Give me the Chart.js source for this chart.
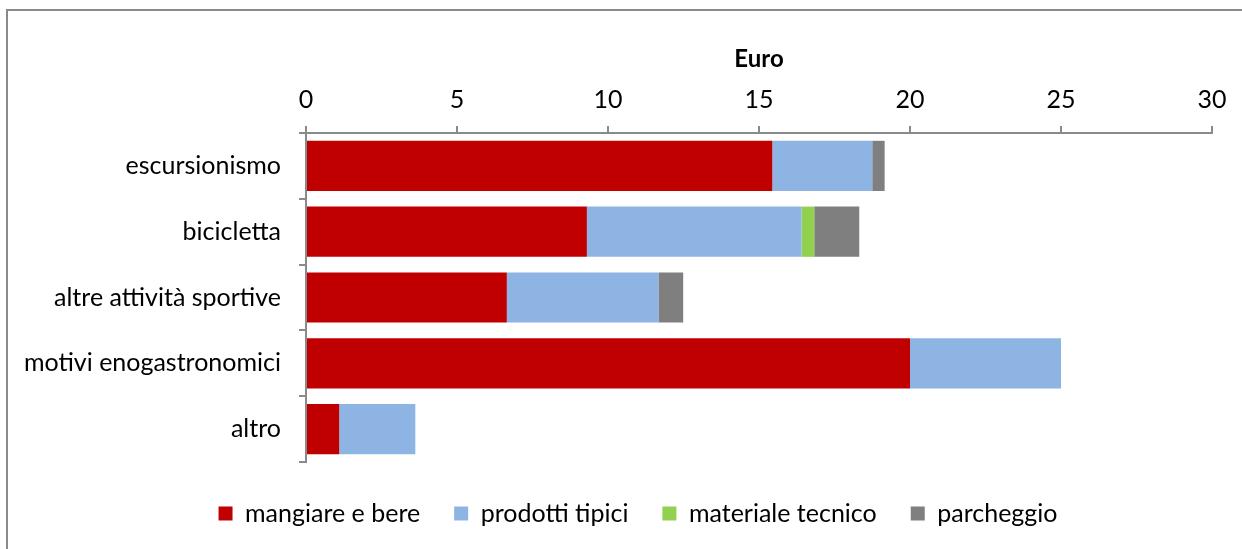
<!DOCTYPE html>
<html>
<head>
<meta charset="utf-8">
<script src="https://cdn.jsdelivr.net/npm/chart.js@4"></script>
<style>
html,body{margin:0;padding:0;background:#fff;}
#wrap{position:relative;width:1242px;height:549px;}
canvas{display:block;}
</style>
</head>
<body>
<div id="wrap"><canvas id="c" width="1242" height="549"></canvas></div>
<script>
const categories = ["escursionismo", "bicicletta", "altre attività sportive", "motivi enogastronomici", "altro"];
const mangiareEBere = [15.44, 9.30, 6.65, 20.0, 1.10];
const prodottiTipici = [3.31, 7.11, 5.02, 5.0, 2.52];
const materialeTecnico = [0, 0.42, 0, 0, 0];
const parcheggio = [0.41, 1.49, 0.82, 0, 0];
const seriesNames = ["mangiare e bere", "prodotti tipici", "materiale tecnico", "parcheggio"];
const axisTitle = "Euro";

const FONT = "Lato";
const frame = {
  id: 'frame',
  afterLayout(chart) {
    const lg = chart.legend;
    if (lg) {
      lg.left += 32; lg.right += 32;
      lg.top += 5; lg.bottom += 5;
    }
  },
  beforeDraw(chart) {
    const ctx = chart.ctx;
    ctx.save();
    ctx.strokeStyle = '#8a8a8a';
    ctx.lineWidth = 2;
    ctx.beginPath();
    ctx.moveTo(7, 549);
    ctx.lineTo(7, 10);
    ctx.lineTo(1242, 10);
    ctx.stroke();
    ctx.restore();
  }
};

new Chart(document.getElementById('c'), {
  type: 'bar',
  data: {
    labels: categories,
    datasets: [
      { label: seriesNames[0], data: mangiareEBere, backgroundColor: '#C00000' },
      { label: seriesNames[1], data: prodottiTipici, backgroundColor: '#8EB4E3' },
      { label: seriesNames[2], data: materialeTecnico, backgroundColor: '#92D050' },
      { label: seriesNames[3], data: parcheggio, backgroundColor: '#7F7F7F' }
    ]
  },
  options: {
    indexAxis: 'y',
    responsive: false,
    animation: false,
    devicePixelRatio: 1,
    categoryPercentage: 1,
    barPercentage: 0.763,
    layout: { padding: { left: 0, right: 30, top: 18, bottom: 18 } },
    plugins: {
      tooltip: { enabled: false },
      legend: {
        position: 'bottom',
        labels: {
          boxWidth: 14, boxHeight: 14, padding: 34,
          color: '#000',
          font: { family: FONT, size: 25 }
        }
      }
    },
    scales: {
      x: {
        type: 'linear',
        position: 'top',
        stacked: true,
        min: 0, max: 30,
        afterFit(scale) { scale.height = 133 - 18; },
        ticks: { stepSize: 5, color: '#000', padding: 11, font: { family: FONT, size: 25 } },
        grid: { drawOnChartArea: false, drawTicks: true, tickLength: 7, color: '#8a8a8a', lineWidth: 2 },
        border: { display: true, color: '#8a8a8a', width: 2 },
        title: { display: true, text: axisTitle, color: '#000', font: { family: FONT, size: 24, weight: 'bold' }, padding: { top: 27, bottom: 0 } }
      },
      y: {
        stacked: true,
        afterFit(scale) { scale.width = 306; },
        ticks: { color: '#000', padding: 18, font: { family: FONT, size: 25 } },
        grid: { offset: true, drawOnChartArea: false, drawTicks: true, tickLength: 7, color: '#8a8a8a', lineWidth: 2 },
        border: { display: true, color: '#8a8a8a', width: 2 }
      }
    }
  },
  plugins: [frame]
});
</script>
</body>
</html>
